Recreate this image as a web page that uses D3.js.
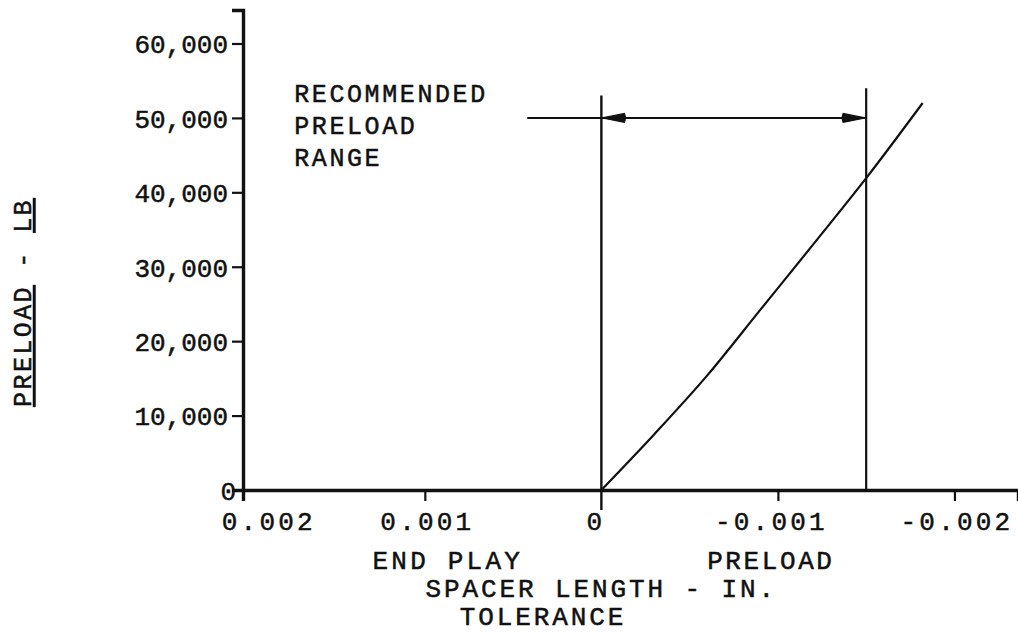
<!DOCTYPE html>
<html>
<head>
<meta charset="utf-8">
<script src="https://cdn.jsdelivr.net/npm/d3@7"></script>
<style>
  html, body { margin: 0; padding: 0; background: #fff; }
  svg { display: block; }
  text { font-family: "Liberation Mono", "DejaVu Sans Mono", monospace; fill: #111; stroke: #111; stroke-width: 0.5px; }
</style>
</head>
<body>
<svg id="chart" width="1018" height="639"></svg>
<script>
// ---- data ----
const xTickValues = [0.002, 0.001, 0, -0.001, -0.002];
const xTickLabels = ["0.002", "0.001", "0", "-0.001", "-0.002"];
const yTickValues = [0, 10000, 20000, 30000, 40000, 50000, 60000];
const yTickLabels = ["0", "10,000", "20,000", "30,000", "40,000", "50,000", "60,000"];
// preload curve: spacer length tolerance (in.) vs preload (lb)
const curveX = [0, -0.0003, -0.0006, -0.0009, -0.0012, -0.0015, -0.00182];
const curveY = [0, 7500, 15400, 24200, 33000, 41900, 52000];
// recommended preload range
const rangeX = [0, -0.0015];
const rangeLevel = 50000;
const rangeLeaderStart = 0.00042;
const rangeLineTop = 53000;
const annotationLines = ["RECOMMENDED", "PRELOAD", "RANGE"];
const xAxisTitle = "SPACER LENGTH - IN.";
const xAxisSub = "TOLERANCE";
const leftSideLabel = "END PLAY";
const rightSideLabel = "PRELOAD";

// ---- layout ----
const svg = d3.select("#chart");
const x = d3.scaleLinear().domain([0.00203, -0.00236]).range([243, 1018]);
const y = d3.scaleLinear().domain([0, 64500]).range([490, 10]);
const ink = "#111";

// y axis
const yAxis = d3.axisLeft(y).tickValues(yTickValues)
  .tickFormat((d, i) => yTickLabels[i]).tickSize(11).tickPadding(6);
const gy = svg.append("g").attr("transform", `translate(${x.range()[0]},0)`).call(yAxis);
gy.select(".domain").attr("stroke", ink).attr("stroke-width", 3.4);
gy.selectAll(".tick line").attr("stroke", ink).attr("stroke-width", 2.2)
  .filter(d => d === 0).remove();
gy.selectAll(".tick text").style("font-size", "26px")
  .attr("dy", "0.36em")
  .attr("x", d => d === 0 ? -7 : -15);

// x axis
const xAxis = d3.axisBottom(x).tickValues(xTickValues)
  .tickFormat((d, i) => xTickLabels[i]).tickSize(11).tickPadding(8);
const gx = svg.append("g").attr("transform", `translate(0,${y(0)})`).call(xAxis);
gx.select(".domain").attr("stroke", ink).attr("stroke-width", 3.4);
gx.selectAll(".tick line").attr("stroke", ink).attr("stroke-width", 2.2)
  .filter(d => d === 0.002 || d === 0).remove();
const labelShift = d => d === 0.002 ? 20 : d === 0 ? -6 : d === -0.001 ? -7 : 2;
gx.selectAll(".tick text").style("font-size", "26px").style("letter-spacing", "3.2px")
  .attr("y", 22).attr("dy", "0.71em")
  .attr("dx", d => labelShift(d));

// vertical range lines
svg.append("line")
  .attr("x1", x(rangeX[0])).attr("x2", x(rangeX[0]))
  .attr("y1", y(rangeLineTop)).attr("y2", y(0) + 20)
  .attr("stroke", ink).attr("stroke-width", 2.4);
svg.append("line")
  .attr("x1", x(rangeX[1])).attr("x2", x(rangeX[1]))
  .attr("y1", y(rangeLineTop + 1000)).attr("y2", y(0))
  .attr("stroke", ink).attr("stroke-width", 2.2);

// range leader with arrows
svg.append("line")
  .attr("x1", x(rangeLeaderStart)).attr("x2", x(rangeX[1]))
  .attr("y1", y(rangeLevel)).attr("y2", y(rangeLevel))
  .attr("stroke", ink).attr("stroke-width", 2);
function arrowHead(xTip, dir) {
  const yy = y(rangeLevel);
  const L = 22, H = 4.5;
  svg.append("path")
    .attr("d", `M${xTip},${yy} L${xTip + dir * L},${yy - H} Q${xTip + dir * (L + 2)},${yy} ${xTip + dir * L},${yy + H} Z`)
    .attr("fill", ink).attr("stroke", ink).attr("stroke-width", 1.2);
}
arrowHead(x(rangeX[0]) + 1, 1);
arrowHead(x(rangeX[1]) - 1, -1);

// preload curve
const pts = curveX.map((v, i) => [v, curveY[i]]);
svg.append("path")
  .datum(pts)
  .attr("d", d3.line().x(d => x(d[0])).y(d => y(d[1])).curve(d3.curveMonotoneX))
  .attr("fill", "none").attr("stroke", ink).attr("stroke-width", 2.2);

// annotation
const ann = svg.append("text")
  .attr("x", x(0.00174)).attr("y", y(52100))
  .style("font-size", "25px").style("letter-spacing", "2.6px");
annotationLines.forEach((t, i) => {
  ann.append("tspan").attr("x", x(0.00174)).attr("dy", i === 0 ? 0 : 32).text(t);
});

// x axis side labels and title
svg.append("text").attr("x", x(0.00087)).attr("y", 569)
  .attr("text-anchor", "middle").style("font-size", "26px").style("letter-spacing", "3.2px")
  .text(leftSideLabel);
svg.append("text").attr("x", x(-0.00096)).attr("y", 569)
  .attr("text-anchor", "middle").style("font-size", "26px").style("letter-spacing", "2.6px")
  .text(rightSideLabel);
svg.append("text").attr("x", x(-0.0000)).attr("y", 597)
  .attr("text-anchor", "middle").style("font-size", "26px").style("letter-spacing", "2.9px")
  .text(xAxisTitle);
svg.append("text").attr("x", x(0.00033)).attr("y", 625)
  .attr("text-anchor", "middle").style("font-size", "26px").style("letter-spacing", "2.9px")
  .text(xAxisSub);

// y axis title (rotated, underlined)
const yt = svg.append("text")
  .attr("transform", `translate(31,${y(25200)}) rotate(-90)`)
  .attr("text-anchor", "middle")
  .style("font-size", "25px").style("letter-spacing", "2.4px");
yt.append("tspan").style("text-decoration", "underline").text("PRELOAD");
yt.append("tspan").text(" - ");
yt.append("tspan").style("text-decoration", "underline").text("LB");
</script>
</body>
</html>
